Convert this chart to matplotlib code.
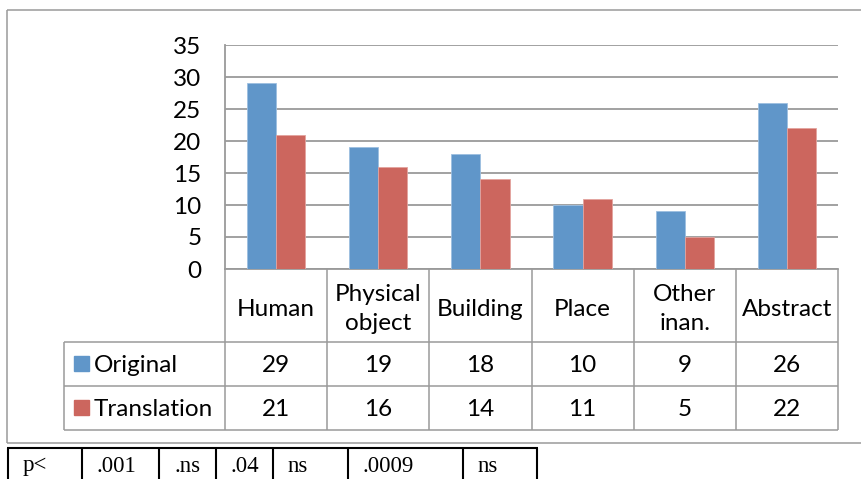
import matplotlib.pyplot as plt
from matplotlib.lines import Line2D
from matplotlib.patches import Rectangle

categories = ['Human', 'Physical\nobject', 'Building', 'Place', 'Other\ninan.', 'Abstract']
original = [29, 19, 18, 10, 9, 26]
translation = [21, 16, 14, 11, 5, 22]
series_names = ['Original', 'Translation']
p_labels = ['p<', '.001', '.ns', '.04', 'ns', '.0009', 'ns']

BLUE = '#6096C9'
RED = '#CC665E'
GRID = '#9A9A9A'
W, H = 861, 479

fig = plt.figure(figsize=(W / 100, H / 100), dpi=100)


def fx(x):
    return x / W


def fy(y):
    # pixel rows counted from the top
    return 1 - y / H


def hline(y, x0, x1, color=GRID, lw=1.1):
    fig.add_artist(Line2D([fx(x0), fx(x1)], [fy(y), fy(y)], color=color, lw=lw,
                          transform=fig.transFigure, solid_capstyle='butt'))


def vline(x, y0, y1, color=GRID, lw=1.1):
    fig.add_artist(Line2D([fx(x), fx(x)], [fy(y0), fy(y1)], color=color, lw=lw,
                          transform=fig.transFigure, solid_capstyle='butt'))


# plot area
left, right, top, bottom = 225, 838, 45, 269
ax = fig.add_axes([fx(left), fy(bottom), fx(right - left), (bottom - top) / H])
n = len(categories)
xs = list(range(n))
bw = 1 / 3.5
ax.bar([x - bw / 2 for x in xs], original, width=bw, color=BLUE,
       edgecolor='#9DBFE0', linewidth=0.6, zorder=3)
ax.bar([x + bw / 2 for x in xs], translation, width=bw, color=RED,
       edgecolor='#E3A39E', linewidth=0.6, zorder=3)
ax.set_xlim(-0.5, n - 0.5)
ax.set_ylim(0, 35)
ax.set_yticks(range(0, 36, 5))
ax.set_xticks([])
ax.yaxis.grid(True, color=GRID, lw=1.3, zorder=0)
ax.tick_params(axis='y', length=0, pad=17, labelsize=17.5)
for lab in ax.get_yticklabels():
    lab.set_fontfamily('Lato')
for s in ['top', 'right']:
    ax.spines[s].set_visible(False)
for s in ['left', 'bottom']:
    ax.spines[s].set_color(GRID)
    ax.spines[s].set_linewidth(1.3)

# outer chart frame
hline(10, 7, 861)
hline(443, 7, 861)
vline(7, 10, 443)

# data table under the bars
colw = (right - left) / n
row_y = [269, 342, 386, 430]
for i in range(n + 1):
    vline(left + i * colw, 269, 430)
vline(64, 342, 430)
for y in row_y[1:]:
    hline(y, 64, right)

font = dict(family='Lato', fontsize=17.5, color='black')
for i, cat in enumerate(categories):
    cx = left + (i + 0.5) * colw
    fig.text(fx(cx), fy(309), cat, ha='center', va='center',
             linespacing=1.45, **font)
    fig.text(fx(cx), fy(366), str(original[i]), ha='center', va='center', **font)
    fig.text(fx(cx), fy(410), str(translation[i]), ha='center', va='center', **font)

for name, color, yc in zip(series_names, [BLUE, RED], [364, 408]):
    fig.add_artist(Rectangle((fx(74), fy(yc + 7)), fx(15), 15 / H, color=color,
                             transform=fig.transFigure))
    fig.text(fx(94), fy(yc + 2), name, ha='left', va='center', **font)

# significance row
p_cols = [8, 82, 159, 216, 273, 348, 463, 537]
hline(448, p_cols[0] - 1, p_cols[-1] + 1, color='black', lw=1.5)
for x in p_cols:
    vline(x, 448, 480, color='black', lw=1.5)
for x, txt in zip(p_cols[:-1], p_labels):
    fig.text(fx(x + 15), fy(466), txt, ha='left', va='center',
             family='Liberation Serif', fontsize=16.5, color='black')

fig.savefig('out.png', dpi=100)
